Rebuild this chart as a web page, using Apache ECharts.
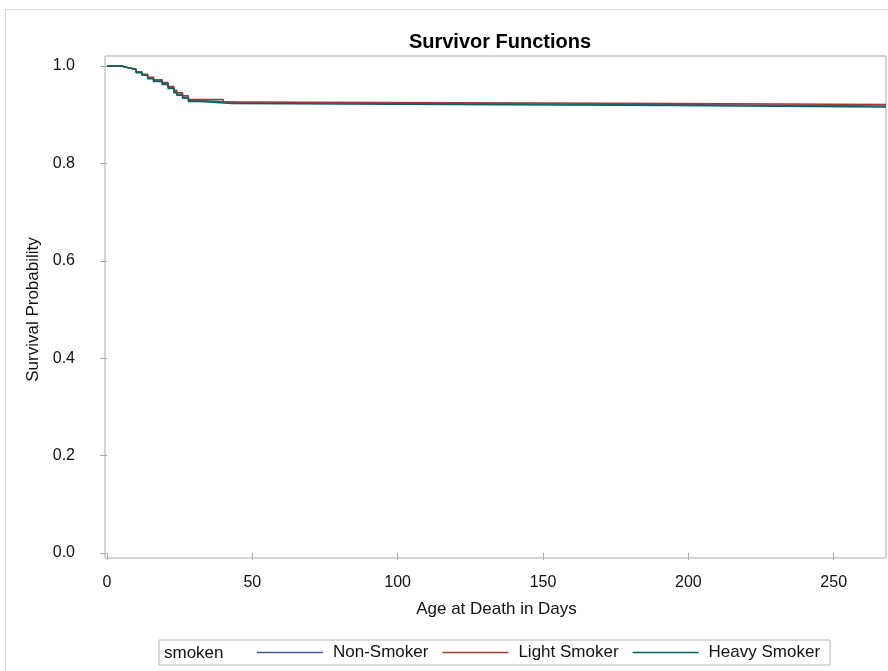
<!DOCTYPE html>
<html>
<head>
<meta charset="utf-8">
<script src="https://cdn.jsdelivr.net/npm/echarts@6/dist/echarts.min.js"></script>
<style>
html,body{margin:0;padding:0;background:#fff;}
#c{width:888px;height:671px;}
</style>
</head>
<body>
<div id="c"></div>
<script>
// ---- data ----
var seriesNames = ['Non-Smoker', 'Light Smoker', 'Heavy Smoker'];
var nonTime   = [0, 5, 7, 10, 12, 14, 16, 19, 21, 23, 24, 26, 28, 33, 45, 195, 268];
var nonSurv   = [1.0, 0.997, 0.993, 0.987, 0.982, 0.975, 0.970, 0.964, 0.956, 0.947, 0.942, 0.936, 0.929, 0.925, 0.921, 0.918, 0.918];
var lightTime = [0, 5, 7, 10, 12, 14, 16, 19, 21, 23, 24, 26, 28, 40, 46, 195, 268];
var lightSurv = [1.0, 0.997, 0.994, 0.988, 0.983, 0.977, 0.972, 0.966, 0.958, 0.950, 0.945, 0.939, 0.931, 0.926, 0.923, 0.921, 0.921];
var heavyTime = [0, 5, 7, 10, 12, 14, 16, 19, 21, 23, 24, 26, 28, 32, 43, 195, 268];
var heavySurv = [1.0, 0.997, 0.993, 0.986, 0.981, 0.974, 0.968, 0.962, 0.954, 0.945, 0.940, 0.934, 0.927, 0.923, 0.919, 0.916, 0.916];
var xTicks = [0, 50, 100, 150, 200, 250];
var yTicks = [0.0, 0.2, 0.4, 0.6, 0.8, 1.0];

function pairs(t, s) { return t.map(function (v, i) { return [v, s[i]]; }); }

var colors = ['#445694', '#A23A2E', '#01665E'];
var font = 'Liberation Sans, Arial, sans-serif';
var chart = echarts.init(document.getElementById('c'), null, {renderer: 'canvas'});

var option = {
  backgroundColor: '#fff',
  animation: false,
  color: colors,
  textStyle: {fontFamily: font},
  title: {
    text: 'Survivor Functions',
    left: 495, textAlign: 'center', top: 27,
    textStyle: {fontFamily: font, fontWeight: 'bold', fontSize: 20, color: '#000'}
  },
  graphic: [
    {type: 'rect', silent: true, z: -1,
     shape: {x: 5.5, y: 9.5, width: 900, height: 700},
     style: {fill: 'none', stroke: '#d9d9d9', lineWidth: 1}},
    {type: 'text', z: 10, x: 164, y: 653,
     style: {text: 'smoken', fontFamily: font, fontSize: 17, fill: '#111', verticalAlign: 'middle'}}
  ],
  legend: {
    data: seriesNames,
    left: 159, top: 640,
    padding: [4, 10, 4, 98],
    borderColor: '#b5b5b5', borderWidth: 1,
    itemWidth: 66, itemHeight: 1.5, itemGap: 14,
    icon: 'rect',
    textStyle: {fontFamily: font, fontSize: 17, color: '#111', padding: [0, 0, 0, 5]}
  },
  grid: [
    {left: 107, right: 2, top: 66, bottom: 118, containLabel: false},
    {left: 105, right: 2, top: 56, bottom: 113, show: true, borderColor: '#aaaaaa', borderWidth: 1, backgroundColor: 'transparent'}
  ],
  xAxis: [
    {type: 'value', gridIndex: 0, min: 0, max: 268, interval: 50, offset: 5,
     axisLine: {show: false},
     axisTick: {show: true, length: 7, lineStyle: {color: '#aaaaaa'}, customValues: xTicks},
     axisLabel: {margin: 17, fontSize: 16, color: '#111', fontFamily: font, customValues: xTicks},
     splitLine: {show: false},
     name: 'Age at Death in Days', nameLocation: 'middle', nameGap: 43,
     nameTextStyle: {fontSize: 17, color: '#111', fontFamily: font}},
    {type: 'value', gridIndex: 1, show: false, min: 0, max: 1}
  ],
  yAxis: [
    {type: 'value', gridIndex: 0, min: 0, max: 1, interval: 0.2, offset: 2,
     axisLine: {show: false},
     axisTick: {show: true, length: 7, lineStyle: {color: '#aaaaaa'}, customValues: yTicks},
     axisLabel: {margin: 30, fontSize: 16, color: '#111', fontFamily: font, customValues: yTicks,
       formatter: function (v) { return Number(v).toFixed(1); }},
     splitLine: {show: false},
     name: 'Survival Probability', nameLocation: 'middle', nameGap: 61,
     nameTextStyle: {fontSize: 17, color: '#111', fontFamily: font}},
    {type: 'value', gridIndex: 1, show: false, min: 0, max: 1}
  ],
  series: [
    {name: seriesNames[0], type: 'line', step: 'end', showSymbol: false, symbol: 'none',
     data: pairs(nonTime, nonSurv), lineStyle: {width: 1.5, color: colors[0]}, clip: false},
    {name: seriesNames[1], type: 'line', step: 'end', showSymbol: false, symbol: 'none',
     data: pairs(lightTime, lightSurv), lineStyle: {width: 1.5, color: colors[1]}, clip: false},
    {name: seriesNames[2], type: 'line', step: 'end', showSymbol: false, symbol: 'none',
     data: pairs(heavyTime, heavySurv), lineStyle: {width: 1.5, color: colors[2]}, clip: false}
  ]
};
chart.setOption(option);
</script>
</body>
</html>
